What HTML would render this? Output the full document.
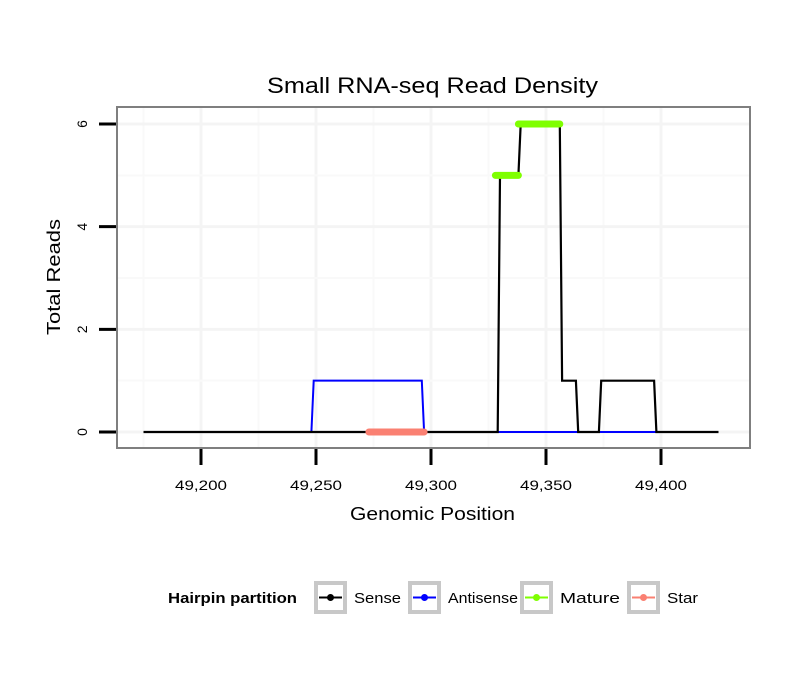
<!DOCTYPE html>
<html><head><meta charset="utf-8"><style>
body{margin:0;background:#fff;font-family:"Liberation Sans",sans-serif}
</style></head><body>
<svg id="chart" width="810" height="690" xmlns="http://www.w3.org/2000/svg" font-family="Liberation Sans, sans-serif">
<rect width="810" height="690" fill="#fff"/>
<g id="grid"></g>
<g id="marks"></g>
<rect x="117" y="107" width="633" height="341" fill="none" stroke="#7f7f7f" stroke-width="2"/>
<g id="axes"></g>
<text x="267" y="93" font-size="22" textLength="331" lengthAdjust="spacingAndGlyphs">Small RNA-seq Read Density</text>
<text x="350" y="520" font-size="18" textLength="165" lengthAdjust="spacingAndGlyphs">Genomic Position</text>
<text transform="translate(60,335) rotate(-90)" font-size="18" textLength="116" lengthAdjust="spacingAndGlyphs">Total Reads</text>
<g id="legend"></g>
</svg>
<script>
const xTicks=[49200,49250,49300,49350,49400];
const yTicks=[0,2,4,6];
const senseX=[49175,49329,49330,49338,49339,49356,49357,49363,49364,49373,49374,49397,49398,49425];
const senseY=[0,0,5,5,6,6,1,1,0,0,1,1,0,0];
const antiX=[49175,49248,49249,49296,49297,49398];
const antiY=[0,0,1,1,0,0];
const matureStart=[49328,49338];
const matureEnd=[49338,49356];
const matureY=[5,6];
const starStart=[49273];
const starEnd=[49297];
const starY=[0];
const legendLabels=["Sense","Antisense","Mature","Star"];
const legendColors=["#000","#0000ff","#7fff00","#fa8072"];

const NS="http://www.w3.org/2000/svg";
const X=v=>201+(v-49200)*2.3;
const Y=v=>432-v*51.33;
function el(t,a,p){const e=document.createElementNS(NS,t);for(const k in a)e.setAttribute(k,a[k]);document.getElementById(p).appendChild(e);return e;}
for(let i=0;i<xTicks.length;i++){const g=el('line',{x1:X(xTicks[i]),x2:X(xTicks[i]),y1:108,y2:447,stroke:'#f4f4f4','stroke-width':3},'grid');

const m=el('line',{x1:X(xTicks[i]-25),x2:X(xTicks[i]-25),y1:108,y2:447,stroke:'#f9f9f9','stroke-width':2},'grid');
}
for(let i=0;i<yTicks.length;i++){const g=el('line',{x1:118,x2:749,y1:Y(yTicks[i]),y2:Y(yTicks[i]),stroke:'#f4f4f4','stroke-width':3},'grid');

if(i<yTicks.length-1){const m=el('line',{x1:118,x2:749,y1:Y(yTicks[i]+1),y2:Y(yTicks[i]+1),stroke:'#f9f9f9','stroke-width':2},'grid');
}}
xTicks.forEach(v=>{const t=el('line',{x1:X(v),x2:X(v),y1:449,y2:465,stroke:'#000','stroke-width':3},'axes');

const l=el('text',{x:X(v)-26,y:490,'font-size':14,textLength:52,lengthAdjust:'spacingAndGlyphs'},'axes');l.textContent=v.toLocaleString('en-US');
});
yTicks.forEach(v=>{const t=el('line',{x1:99,x2:116,y1:Y(v),y2:Y(v),stroke:'#000','stroke-width':3},'axes');

const l=el('text',{transform:`translate(87,${Y(v)}) rotate(-90)`,'font-size':14,'text-anchor':'middle'},'axes');l.textContent=v;
});
const pts=(xs,ys)=>xs.map((x,i)=>X(x)+','+Y(ys[i])).join(' ');
const a=el('polyline',{points:pts(antiX,antiY),fill:'none',stroke:'#0000ff','stroke-width':2},'marks');

const s=el('polyline',{points:pts(senseX,senseY),fill:'none',stroke:'#000','stroke-width':2.2},'marks');

for(let i=0;i<matureY.length;i++){const m=el('line',{x1:X(matureStart[i]),x2:X(matureEnd[i]),y1:Y(matureY[i]),y2:Y(matureY[i]),stroke:'#7fff00','stroke-width':7,'stroke-linecap':'round'},'marks');
}
for(let i=0;i<starY.length;i++){const m=el('line',{x1:X(starStart[i]),x2:X(starEnd[i]),y1:Y(starY[i]),y2:Y(starY[i]),stroke:'#fa8072','stroke-width':7,'stroke-linecap':'round'},'marks');
}
const b=el('line',{x1:X(49330),x2:X(49363),y1:Y(0),y2:Y(0),stroke:'#0000ff','stroke-width':2},'marks');

const b2=el('line',{x1:X(49374),x2:X(49397),y1:Y(0),y2:Y(0),stroke:'#0000ff','stroke-width':2},'marks');

const lt=el('text',{x:168,y:603,'font-size':15,'font-weight':'bold',textLength:129,lengthAdjust:'spacingAndGlyphs'},'legend');lt.textContent='Hairpin partition';

const bx=[314,408,520,627];
const tw=[47,70,60,31];
legendLabels.forEach((lab,i)=>{const x=bx[i];
const r=el('rect',{x:x+2,y:583,width:29,height:29,fill:'#fff',stroke:'#c8c8c8','stroke-width':4},'legend');

const l=el('line',{x1:x+5,x2:x+28,y1:597.5,y2:597.5,stroke:legendColors[i],'stroke-width':2},'legend');

const c=el('circle',{cx:x+16.5,cy:597.5,r:3.5,fill:legendColors[i]},'legend');

const t=el('text',{x:x+40,y:603,'font-size':15,textLength:tw[i],lengthAdjust:'spacingAndGlyphs'},'legend');t.textContent=lab;
});
</script>
</body></html>
